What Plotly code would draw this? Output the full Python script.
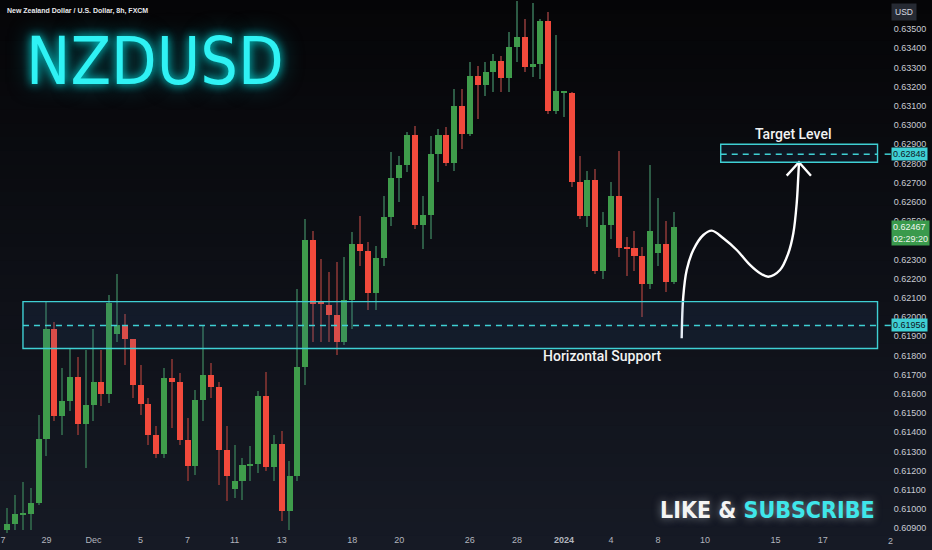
import plotly.graph_objects as go

# ---------------- data (NZDUSD, 8h candles) ----------------
opens = [0.60890, 0.60921, 0.60973, 0.60973, 0.61030, 0.61363, 0.61940, 0.61482, 0.61560, 0.61690,
         0.61441, 0.61540, 0.61664, 0.61597, 0.61909, 0.61956, 0.61883, 0.61644, 0.61545, 0.61384,
         0.61285, 0.61680, 0.61664, 0.61358, 0.61222, 0.61566, 0.61696, 0.61633, 0.61306, 0.61103,
         0.61144, 0.61228, 0.61233, 0.61586, 0.61217, 0.61337, 0.60988, 0.61170, 0.61742, 0.62403,
         0.62072, 0.62065, 0.62013, 0.61872, 0.62086, 0.62382, 0.62346, 0.62127, 0.62309, 0.62522,
         0.62725, 0.62793, 0.62949, 0.62481, 0.62533, 0.62850, 0.62949, 0.62803, 0.63100, 0.62954,
         0.63256, 0.63209, 0.63276, 0.63334, 0.63245, 0.63406, 0.63458, 0.63302, 0.63318, 0.63542,
         0.63074, 0.63170, 0.63167, 0.62704, 0.62528, 0.62715, 0.62242, 0.62481, 0.62632, 0.62363,
         0.62361, 0.62320, 0.62174, 0.62335, 0.62382, 0.62184]
highs = [0.61004, 0.61072, 0.61139, 0.61108, 0.61488, 0.62080, 0.61976, 0.61732, 0.61836, 0.61794,
         0.61826, 0.61940, 0.61826, 0.62112, 0.62226, 0.62018, 0.61888, 0.61748, 0.61576, 0.61430,
         0.61732, 0.61779, 0.61706, 0.61472, 0.61618, 0.61956, 0.61763, 0.61664, 0.61430, 0.61332,
         0.61264, 0.61326, 0.61612, 0.61716, 0.61384, 0.61404, 0.61248, 0.62148, 0.62512, 0.62450,
         0.62304, 0.62236, 0.62288, 0.62314, 0.62444, 0.62528, 0.62392, 0.62372, 0.62632, 0.62860,
         0.62840, 0.62964, 0.62996, 0.62632, 0.62944, 0.62980, 0.62990, 0.63188, 0.63188, 0.63328,
         0.63308, 0.63328, 0.63370, 0.63360, 0.63484, 0.63646, 0.63552, 0.63635, 0.63552, 0.63588,
         0.63469, 0.63178, 0.63170, 0.62840, 0.62762, 0.62772, 0.62548, 0.62704, 0.62866, 0.62418,
         0.62450, 0.62366, 0.62793, 0.62621, 0.62502, 0.62548]
lows = [0.60874, 0.60890, 0.60890, 0.60890, 0.61020, 0.61274, 0.61456, 0.61384, 0.61508, 0.61384,
        0.61212, 0.61456, 0.61534, 0.61550, 0.61872, 0.61748, 0.61576, 0.61488, 0.61332, 0.61264,
        0.61264, 0.61420, 0.61332, 0.61144, 0.61176, 0.61456, 0.61576, 0.61124, 0.61040, 0.61056,
        0.61046, 0.61144, 0.61186, 0.61196, 0.61144, 0.60936, 0.60890, 0.61144, 0.61644, 0.61872,
        0.61872, 0.61872, 0.61800, 0.61852, 0.61940, 0.62268, 0.62034, 0.62034, 0.62268, 0.62476,
        0.62600, 0.62756, 0.62460, 0.62356, 0.62408, 0.62704, 0.62788, 0.62762, 0.62876, 0.62944,
        0.63032, 0.63152, 0.63172, 0.63172, 0.63172, 0.63328, 0.63276, 0.63250, 0.63240, 0.63058,
        0.63058, 0.63042, 0.62678, 0.62512, 0.62470, 0.62226, 0.62200, 0.62408, 0.62314, 0.62216,
        0.62242, 0.62002, 0.62148, 0.62268, 0.62132, 0.62174]
closes = [0.60921, 0.60973, 0.60975, 0.61030, 0.61363, 0.61940, 0.61482, 0.61560, 0.61690, 0.61441,
          0.61540, 0.61664, 0.61597, 0.62075, 0.61956, 0.61883, 0.61644, 0.61545, 0.61384, 0.61285,
          0.61680, 0.61664, 0.61358, 0.61222, 0.61566, 0.61696, 0.61633, 0.61306, 0.61170, 0.61144,
          0.61228, 0.61233, 0.61586, 0.61217, 0.61337, 0.60988, 0.61170, 0.61742, 0.62403, 0.62070,
          0.62068, 0.62013, 0.61872, 0.62086, 0.62382, 0.62346, 0.62127, 0.62309, 0.62522, 0.62725,
          0.62793, 0.62949, 0.62481, 0.62533, 0.62850, 0.62949, 0.62803, 0.63100, 0.62954, 0.63256,
          0.63209, 0.63276, 0.63334, 0.63245, 0.63406, 0.63458, 0.63302, 0.63318, 0.63542, 0.63074,
          0.63178, 0.63175, 0.62704, 0.62528, 0.62715, 0.62242, 0.62481, 0.62632, 0.62361, 0.62359,
          0.62320, 0.62174, 0.62450, 0.62382, 0.62184, 0.62467]

# time axis (bar index positions of day labels)
date_tick_pos = [-0.55, 5, 11, 17, 23, 29, 35, 44, 50, 59, 65, 71, 77, 83, 89, 98, 104]
date_tick_text = ["7", "29", "Dec", "5", "7", "11", "13", "18", "20", "26", "28", "<b>2024</b>",
                  "4", "8", "10", "15", "17"]

# price scale (0.62400 is hidden behind the live-price tag in the original)
price_ticks = [round(0.609 + 0.001 * k, 3) for k in range(27)]
price_tick_text = ["" if abs(v - 0.624) < 1e-9 else "%.5f" % v for v in price_ticks]

# drawn levels
support_top, support_bottom, support_level = 0.62080, 0.61836, 0.61956
target_top, target_bottom, target_level = 0.62900, 0.62806, 0.62848
last_price = 0.62467
countdown = "02:29:20"

# hand-drawn projection arrow (bar index, price)
arrow_x = [86.02, 86.22, 86.66, 87.50, 88.78, 89.85, 91.33, 93.04, 94.73, 96.01, 97.07,
           98.56, 99.62, 100.26, 100.69, 100.89, 100.98]
arrow_y = [0.61889, 0.62106, 0.62245, 0.62349, 0.62427, 0.62450, 0.62410, 0.62349, 0.62271,
           0.62228, 0.62210, 0.62245, 0.62332, 0.62436, 0.62592, 0.62731, 0.62801]
head_x = [99.41, 100.98, 102.51]
head_y = [0.62736, 0.62806, 0.62736]

# ---------------- styling ----------------
GREEN = "#3f9c4b"
RED = "#f24a3c"
GREEN_WICK = "#2c5a44"
RED_WICK = "#6e2e2e"
CYAN = "#3fd0d4"
TOP_BG = (5, 5, 7)
BOT_BG = (22, 26, 37)

X_RANGE = [-0.93, 111.57]
Y_RANGE = [0.60875, 0.63651]

n = len(opens)
xs = list(range(n))
is_up = [c >= o for o, c in zip(opens, closes)]
body_base = [min(o, c) for o, c in zip(opens, closes)]
body_len = [max(abs(c - o), 0.00005) for o, c in zip(opens, closes)]
wick_len = [h - l for h, l in zip(highs, lows)]

fig = go.Figure()

fig.add_trace(go.Bar(
    x=xs, base=lows, y=wick_len, width=0.14,
    marker=dict(color=[GREEN_WICK if u else RED_WICK for u in is_up], line=dict(width=0)),
    hoverinfo="skip"))
fig.add_trace(go.Bar(
    x=xs, base=body_base, y=body_len, width=0.77,
    marker=dict(color=[GREEN if u else RED for u in is_up], line=dict(width=0)),
    customdata=list(zip(opens, highs, lows, closes)),
    hovertemplate="O %{customdata[0]:.5f}<br>H %{customdata[1]:.5f}<br>"
                  "L %{customdata[2]:.5f}<br>C %{customdata[3]:.5f}<extra></extra>"))

# projection arrow
fig.add_trace(go.Scatter(x=arrow_x, y=arrow_y, mode="lines",
                         line=dict(color="white", width=2.4, shape="spline", smoothing=1.0),
                         hoverinfo="skip"))
fig.add_trace(go.Scatter(x=head_x, y=head_y, mode="lines",
                         line=dict(color="white", width=2.4), hoverinfo="skip"))

shapes = []
# background vertical gradient
bands = 40
fig_h = 550.0
plot_h = 533.0
for b in range(bands):
    t = (b + 0.5) / bands
    col = tuple(int(round(TOP_BG[k] + (BOT_BG[k] - TOP_BG[k]) * t)) for k in range(3))
    y_top_px = fig_h * b / bands
    y_bot_px = fig_h * (b + 1) / bands
    shapes.append(dict(type="rect", xref="paper", yref="paper", layer="below",
                       x0=-0.01, x1=1.07,
                       y0=1 - y_bot_px / plot_h - 0.001, y1=1 - y_top_px / plot_h + 0.001,
                       fillcolor="rgb(%d,%d,%d)" % col, line=dict(width=0)))

# support zone
shapes.append(dict(type="rect", xref="x", yref="y", x0=2, x1=111, y0=support_bottom, y1=support_top,
                   fillcolor="rgba(45,100,160,0.13)", line=dict(color=CYAN, width=1.4)))
shapes.append(dict(type="line", xref="x", yref="y", x0=2, x1=111, y0=support_level, y1=support_level,
                   line=dict(color=CYAN, width=1.4, dash="6px,5px")))
# target zone
shapes.append(dict(type="rect", xref="x", yref="y", x0=91, x1=111, y0=target_bottom, y1=target_top,
                   fillcolor="rgba(45,100,160,0.13)", line=dict(color=CYAN, width=1.4)))
shapes.append(dict(type="line", xref="x", yref="y", x0=91, x1=111, y0=target_level, y1=target_level,
                   line=dict(color=CYAN, width=1.4, dash="6px,5px")))
# small axis markers for levels
for lv in (support_level, target_level):
    shapes.append(dict(type="line", xref="paper", yref="y", x0=1.003, x1=1.010, y0=lv, y1=lv,
                       line=dict(color=CYAN, width=1.5)))

annotations = []
AX_X = 1.0 + 10 / 882.0
annotations.append(dict(text="New Zealand Dollar / U.S. Dollar, 8h, FXCM", xref="paper", yref="paper",
                        x=5 / 882.0, y=1 - 10.5 / 533.0, xanchor="left", yanchor="middle", showarrow=False,
                        font=dict(family="Liberation Sans, Arial, sans-serif", size=7, color="#e8e9ec",
                                  weight="bold")))
annotations.append(dict(text="NZDUSD", xref="paper", yref="paper", x=155 / 882.0, y=1 - 62 / 533.0,
                        xanchor="center", yanchor="middle", showarrow=False,
                        font=dict(family="Liberation Sans Narrow, DejaVu Sans Condensed, sans-serif",
                                  size=66, color="#2ff2f4",
                                  shadow="0 0 10px rgba(0,255,255,0.85), 0 0 22px rgba(0,220,230,0.55)")))
annotations.append(dict(text="LIKE & <span style='color:#3fe6ea'>SUBSCRIBE</span>", xref="paper",
                        yref="paper", x=767 / 882.0, y=1 - 510 / 533.0, xanchor="center", yanchor="middle",
                        showarrow=False,
                        font=dict(family="Liberation Sans Narrow, DejaVu Sans Condensed, sans-serif",
                                  size=23, color="#f4f4f4", weight="bold",
                                  shadow="0 0 8px rgba(220,230,240,0.55)")))
annotations.append(dict(text="Target Level", xref="x", yref="y", x=100.2, y=0.62953,
                        xanchor="center", yanchor="middle", showarrow=False,
                        font=dict(family="Roboto, sans-serif", size=14, color="#f2f2f2", weight=500)))
annotations.append(dict(text="Horizontal Support", xref="x", yref="y", x=75.98, y=0.61797,
                        xanchor="center", yanchor="middle", showarrow=False,
                        font=dict(family="Roboto, sans-serif", size=14, color="#f2f2f2", weight=500)))
# price scale labels
annotations.append(dict(text="USD", xref="paper", yref="paper", x=AX_X - 1 / 882.0, y=1 - 12 / 533.0,
                        xanchor="left", yanchor="middle", showarrow=False, bgcolor="#262a33",
                        borderpad=3, font=dict(family="Liberation Sans, Arial", size=8.5, color="#d8dae0")))
for lv in (target_level, support_level):
    annotations.append(dict(text="%.5f" % lv, xref="paper", yref="y", x=AX_X - 1 / 882.0, y=lv,
                            xanchor="left", yanchor="middle", showarrow=False, bgcolor=CYAN, borderpad=1,
                            font=dict(family="Liberation Sans, Arial", size=9, color="#10161c")))
annotations.append(dict(text="%.5f<br>%s" % (last_price, countdown), xref="paper", yref="y",
                        x=AX_X - 1 / 882.0, y=last_price, yshift=-5.5, xanchor="left", yanchor="middle",
                        showarrow=False, bgcolor="#3a9a4c", borderpad=1, align="left",
                        font=dict(family="Liberation Sans, Arial", size=9, color="#f0f5f0")))
annotations.append(dict(text="2", xref="paper", yref="paper", x=890 / 882.0, y=-8 / 533.0,
                        xanchor="center", yanchor="middle", showarrow=False,
                        font=dict(family="Liberation Sans, Arial", size=9, color="#b2b5be")))

fig.update_layout(
    width=932, height=550,
    margin=dict(l=0, r=50, t=0, b=17, autoexpand=False),
    paper_bgcolor="rgb(12,13,18)", plot_bgcolor="rgba(0,0,0,0)",
    barmode="overlay", bargap=0, showlegend=False,
    shapes=shapes, annotations=annotations,
    xaxis=dict(range=X_RANGE, tickmode="array", tickvals=date_tick_pos, ticktext=date_tick_text,
               showgrid=False, zeroline=False, showline=False, ticks="", automargin=False,
               tickfont=dict(family="Liberation Sans, Arial", size=9, color="#b2b5be"), fixedrange=True),
    yaxis=dict(range=Y_RANGE, side="right", tickmode="array", tickvals=price_ticks,
               ticktext=price_tick_text, showgrid=False, zeroline=False,
               showline=False, ticks="outside", ticklen=9, tickcolor="rgba(0,0,0,0)", automargin=False,
               tickfont=dict(family="Liberation Sans, Arial", size=9, color="#c8cbd2"), fixedrange=True),
)

fig.write_html("out.html", config={"displayModeBar": False},
               post_script="document.body.style.margin='0px';document.body.style.background='rgb(12,13,18)';")
